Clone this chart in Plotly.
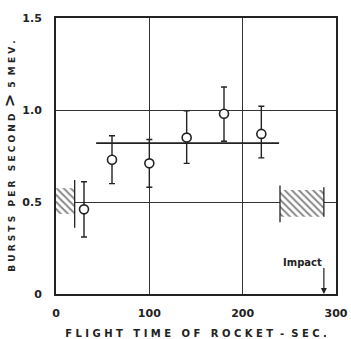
import plotly.graph_objects as go

flight_time = [30, 60, 100, 140, 180, 220]
bursts = [0.46, 0.73, 0.71, 0.85, 0.98, 0.87]
err_plus = [0.15, 0.13, 0.13, 0.145, 0.145, 0.15]
err_minus = [0.15, 0.13, 0.13, 0.14, 0.15, 0.13]

mean_x = [43, 239]
mean_y = [0.82, 0.82]

left_band_x = [0, 20]
left_band_y = [0.435, 0.575]
right_band_x = [240, 287]
right_band_y = [0.42, 0.565]

impact_x = 287
x_ticks = [0, 100, 200, 300]
y_ticks = [0, 0.5, 1.0, 1.5]
y_tick_text = ["0", "0.5", "1.0", "1.5"]

font = "DejaVu Sans"
fig = go.Figure()

for bx, by in [(left_band_x, left_band_y), (right_band_x, right_band_y)]:
    fig.add_trace(go.Scatter(
        x=[bx[0], bx[1], bx[1], bx[0], bx[0]],
        y=[by[0], by[0], by[1], by[1], by[0]],
        mode="lines", line=dict(width=0, color="rgba(0,0,0,0)"),
        fill="toself", fillcolor="rgba(0,0,0,0)",
        fillpattern=dict(shape="\\", fgcolor="#111", bgcolor="white", size=5, solidity=0.4),
        showlegend=False, hoverinfo="skip"))

# band edge lines
for xv, y0, y1 in [(left_band_x[1], 0.36, 0.62), (right_band_x[0], 0.39, 0.59), (right_band_x[1], 0.42, 0.58)]:
    fig.add_shape(type="line", x0=xv, x1=xv, y0=y0, y1=y1, line=dict(color="#222", width=1.3))

fig.add_trace(go.Scatter(x=mean_x, y=mean_y, mode="lines",
                         line=dict(color="#222", width=1.6), showlegend=False))

fig.add_trace(go.Scatter(
    x=flight_time, y=bursts, mode="markers",
    marker=dict(symbol="circle", size=9, color="white", line=dict(color="#222", width=1.6)),
    error_y=dict(type="data", array=err_plus, arrayminus=err_minus,
                 color="#222", thickness=1.4, width=3),
    showlegend=False))

fig.add_annotation(x=impact_x, y=0.0, ax=impact_x, ay=0.15, xref="x", yref="y",
                   axref="x", ayref="y", showarrow=True, arrowhead=2, arrowsize=1,
                   arrowwidth=1.2, arrowcolor="#222", text="")
fig.add_annotation(x=impact_x, y=0.17, xref="x", yref="y", text="<b>Impact</b>",
                   showarrow=False, xanchor="right", yanchor="middle",
                   font=dict(family=font, size=10, color="#222"))

fig.update_layout(
    width=351, height=339, margin=dict(l=56, r=15, t=18, b=45),
    plot_bgcolor="white", paper_bgcolor="white",
    font=dict(family=font, color="#222"),
)
fig.update_xaxes(range=[0, 300], tickvals=x_ticks, ticktext=[f"<b>{v}</b>" for v in x_ticks],
                 showgrid=True, gridcolor="#333", gridwidth=1.2,
                 showline=True, linecolor="#222", linewidth=2, mirror=True,
                 zeroline=False, ticks="", tickfont=dict(size=11, family=font),
                 ticklabelstandoff=8, automargin=False,
                 title=dict(text="<b>F L I G H T   T I M E   O F   R O C K E T  -  S E C .</b>",
                            font=dict(size=10, family=font), standoff=12))
fig.update_yaxes(range=[0, 1.5], tickvals=y_ticks, ticktext=[f"<b>{t}</b>" for t in y_tick_text],
                 showgrid=True, gridcolor="#333", gridwidth=1.2,
                 showline=True, linecolor="#222", linewidth=2, mirror=True,
                 zeroline=False, ticks="", tickfont=dict(size=11, family=font),
                 ticklabelstandoff=10, automargin=False,
                 title=dict(text="<b>B U R S T S   P E R   S E C O N D  <span style='font-size:16px'>></span>  5  M E V .</b>",
                            font=dict(size=9, family=font), standoff=8))

fig.write_html("out.html")
